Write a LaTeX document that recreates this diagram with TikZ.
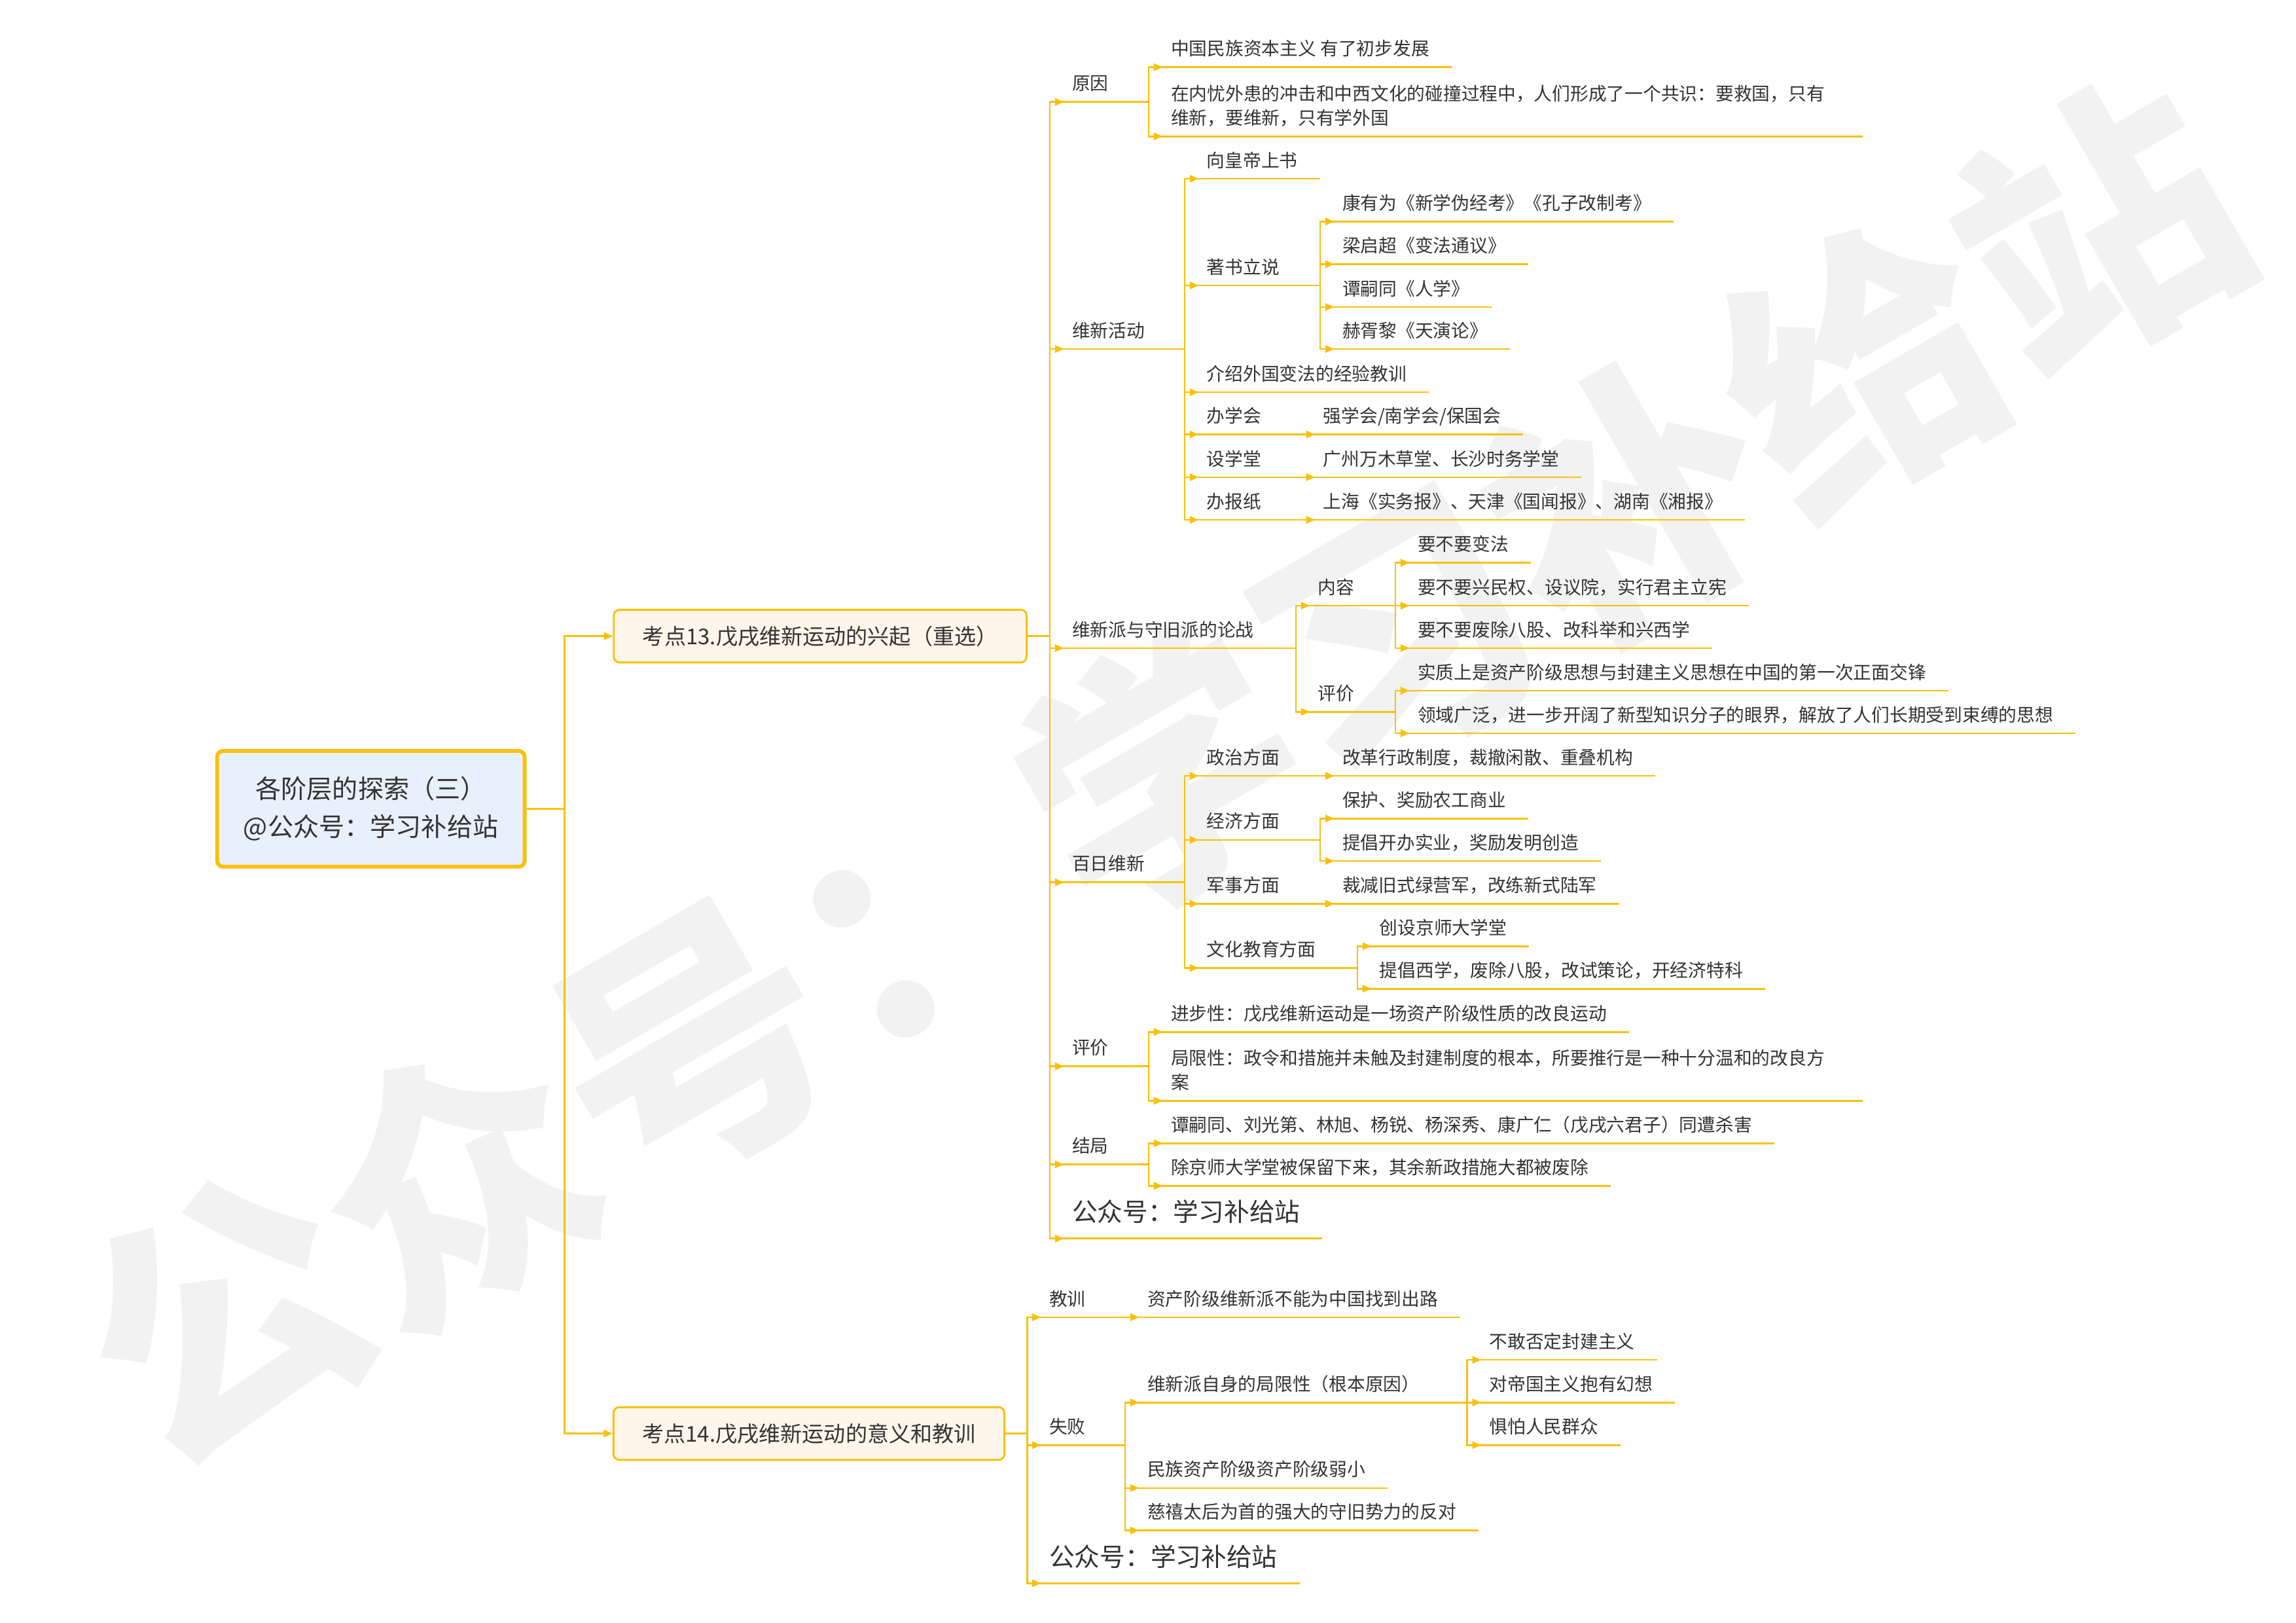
\documentclass[tikz,border=0pt]{standalone}
\usepackage{fontspec}
\setmainfont{Noto Sans CJK SC}
\usetikzlibrary{arrows.meta}
\definecolor{gold}{RGB}{250,192,10}
\definecolor{ink}{RGB}{51,51,51}
\definecolor{rootfill}{RGB}{232,241,251}
\definecolor{topicfill}{RGB}{254,246,234}
\definecolor{wmgray}{RGB}{242,242,242}

\begin{document}
\begin{tikzpicture}[x=1pt, y=-1pt,
  wmark/.style={font=\fontsize{185}{185}\selectfont\bfseries, text=wmgray, inner sep=0pt},
  root/.style={draw=gold, line width=2.6pt, rounded corners=4pt, fill=rootfill, align=center,
               minimum width=210pt, minimum height=79pt, text=ink,
               font=\fontsize{17.5}{26}\selectfont},
  topic/.style={draw=gold, line width=1.3pt, rounded corners=4pt, fill=topicfill, anchor=west,
                minimum height=36pt, text=ink, font=\fontsize{14.8}{18}\selectfont},
  uline/.style={draw=gold, line width=1.2pt},
  item/.style={anchor=south west, inner xsep=15pt, inner ysep=4.8pt, text depth=3pt,
               align=left, text=ink, font=\fontsize{12.4}{16.4}\selectfont,
               append after command={(\tikzlastnode.south west) edge[uline] (\tikzlastnode.south east)}},
  twoline/.style={item, text width=457pt, text depth=19.4pt},
  tag/.style={item, inner ysep=8.4pt, font=\fontsize{17.3}{20}\selectfont},
  arr/.style={draw=gold, line width=1.2pt, -{Triangle[length=6pt, width=5pt]}},
  link/.style={arr, to path={-| (\tikztotarget) -- ++(9.5,0)}}
]
\useasboundingbox (0,0) rectangle (1568,1108);
% watermark
\node[wmark, rotate=30.1] (wm) at (792,527) {公众号：学习补给站};

% root and the two topics
\node[root] (root) at (253.3,552.2) {各阶层的探索（三）\\@公众号：学习补给站};
\node[topic, minimum width=282pt] (t13) at (418.5,434.3) {考点13.戊戌维新运动的兴起（重选）};
\node[topic, minimum width=267pt] (t14) at (418.3,978.7) {考点14.戊戌维新运动的意义和教训};
\draw[arr] (root.east) -- ++(26,0) |- (t13.west);
\draw[arr] (root.east) -- ++(26,0) |- (t14.west);

% topic 13
\node[item] (cause) at (717,69.6) {原因};
\node[item] (cause1) at (784.5,45.9) {中国民族资本主义 有了初步发展};
\node[twoline] (cause2) at (784.5,93.1)
     {在内忧外患的冲击和中西文化的碰撞过程中，人们形成了一个共识：要救国，只有\\维新，要维新，只有学外国};

\node[item] (act) at (717,238.3) {维新活动};
\node[item] (memo) at (809,122) {向皇帝上书};
\node[item] (books) at (809,194.9) {著书立说};
\node[item] (kang) at (901.6,151.2) {康有为《新学伪经考》《孔子改制考》};
\node[item] (liang) at (901.6,180.4) {梁启超《变法通议》};
\node[item] (tan) at (901.6,209.6) {谭嗣同《人学》};
\node[item] (yan) at (901.6,238.3) {赫胥黎《天演论》};
\node[item] (intro) at (809,267.8) {介绍外国变法的经验教训};
\node[item] (soc) at (809,296.6) {办学会};
\node[item] (soc1) at (888.5,296.6) {强学会/南学会/保国会};
\node[item] (sch) at (809,325.8) {设学堂};
\node[item] (sch1) at (888.5,325.8) {广州万木草堂、长沙时务学堂};
\node[item] (news) at (809,354.9) {办报纸};
\node[item] (news1) at (888.5,354.9) {上海《实务报》、天津《国闻报》、湖南《湘报》};

\node[item] (debate) at (717,442.5) {维新派与守旧派的论战};
\node[item] (cont) at (885,413.5) {内容};
\node[item] (cont1) at (953,384.2) {要不要变法};
\node[item] (cont2) at (953,413.5) {要不要兴民权、设议院，实行君主立宪};
\node[item] (cont3) at (953,442.5) {要不要废除八股、改科举和兴西学};
\node[item] (view) at (885,486) {评价};
\node[item] (view1) at (953,471.6) {实质上是资产阶级思想与封建主义思想在中国的第一次正面交锋};
\node[item] (view2) at (953,500.6) {领域广泛，进一步开阔了新型知识分子的眼界，解放了人们长期受到束缚的思想};

\node[item] (hund) at (717,602.4) {百日维新};
\node[item] (pol) at (809,529.7) {政治方面};
\node[item] (pol1) at (901.6,529.7) {改革行政制度，裁撤闲散、重叠机构};
\node[item] (eco) at (809,573.4) {经济方面};
\node[item] (eco1) at (901.6,558.8) {保护、奖励农工商业};
\node[item] (eco2) at (901.6,587.8) {提倡开办实业，奖励发明创造};
\node[item] (mil) at (809,617) {军事方面};
\node[item] (mil1) at (901.6,617) {裁减旧式绿营军，改练新式陆军};
\node[item] (cul) at (809,660.8) {文化教育方面};
\node[item] (cul1) at (927,646) {创设京师大学堂};
\node[item] (cul2) at (927,675) {提倡西学，废除八股，改试策论，开经济特科};

\node[item] (judge) at (717,728) {评价};
\node[item] (judge1) at (784.5,704.5) {进步性：戊戌维新运动是一场资产阶级性质的改良运动};
\node[twoline] (judge2) at (784.5,751.5)
     {局限性：政令和措施并未触及封建制度的根本，所要推行是一种十分温和的改良方\\案};
\node[item] (fate) at (717,795) {结局};
\node[item] (fate1) at (784.5,780.5) {谭嗣同、刘光第、林旭、杨锐、杨深秀、康广仁（戊戌六君子）同遭杀害};
\node[item] (fate2) at (784.5,809.6) {除京师大学堂被保留下来，其余新政措施大都被废除};
\node[tag] (sign13) at (717,845.6) {公众号：学习补给站};

% topic 14
\node[item] (lesson) at (701.4,899.3) {教训};
\node[item] (lesson1) at (768.4,899.3) {资产阶级维新派不能为中国找到出路};
\node[item] (fail) at (701.4,986.6) {失败};
\node[item] (self) at (768.4,957.5) {维新派自身的局限性（根本原因）};
\node[item] (self1) at (1002,928.4) {不敢否定封建主义};
\node[item] (self2) at (1002,957.5) {对帝国主义抱有幻想};
\node[item] (self3) at (1002,986.6) {惧怕人民群众};
\node[item] (weak) at (768.4,1015.9) {民族资产阶级资产阶级弱小};
\node[item] (oppo) at (768.4,1044.9) {慈禧太后为首的强大的守旧势力的反对};
\node[tag] (sign14) at (701.4,1080.9) {公众号：学习补给站};

% connectors
\path (t13.east) edge[link] (cause.south west) edge[link] (act.south west)
      edge[link] (debate.south west) edge[link] (hund.south west)
      edge[link] (judge.south west) edge[link] (fate.south west) edge[link] (sign13.south west);
\path (cause.south east) edge[link] (cause1.south west) edge[link] (cause2.south west);
\path (act.south east) edge[link] (memo.south west) edge[link] (books.south west)
      edge[link] (intro.south west) edge[link] (soc.south west)
      edge[link] (sch.south west) edge[link] (news.south west);
\path (books.south east) edge[link] (kang.south west) edge[link] (liang.south west)
      edge[link] (tan.south west) edge[link] (yan.south west);
\path (soc.south east) edge[link] (soc1.south west);
\path (sch.south east) edge[link] (sch1.south west);
\path (news.south east) edge[link] (news1.south west);
\path (debate.south east) edge[link] (cont.south west) edge[link] (view.south west);
\path (cont.south east) edge[link] (cont1.south west) edge[link] (cont2.south west) edge[link] (cont3.south west);
\path (view.south east) edge[link] (view1.south west) edge[link] (view2.south west);
\path (hund.south east) edge[link] (pol.south west) edge[link] (eco.south west)
      edge[link] (mil.south west) edge[link] (cul.south west);
\path (pol.south east) edge[link] (pol1.south west);
\path (eco.south east) edge[link] (eco1.south west) edge[link] (eco2.south west);
\path (mil.south east) edge[link] (mil1.south west);
\path (cul.south east) edge[link] (cul1.south west) edge[link] (cul2.south west);
\path (judge.south east) edge[link] (judge1.south west) edge[link] (judge2.south west);
\path (fate.south east) edge[link] (fate1.south west) edge[link] (fate2.south west);

\path (t14.east) edge[link] (lesson.south west) edge[link] (fail.south west) edge[link] (sign14.south west);
\path (lesson.south east) edge[link] (lesson1.south west);
\path (fail.south east) edge[link] (self.south west) edge[link] (weak.south west) edge[link] (oppo.south west);
\path (self.south east) edge[link] (self1.south west) edge[link] (self2.south west) edge[link] (self3.south west);
\end{tikzpicture}
\end{document}
